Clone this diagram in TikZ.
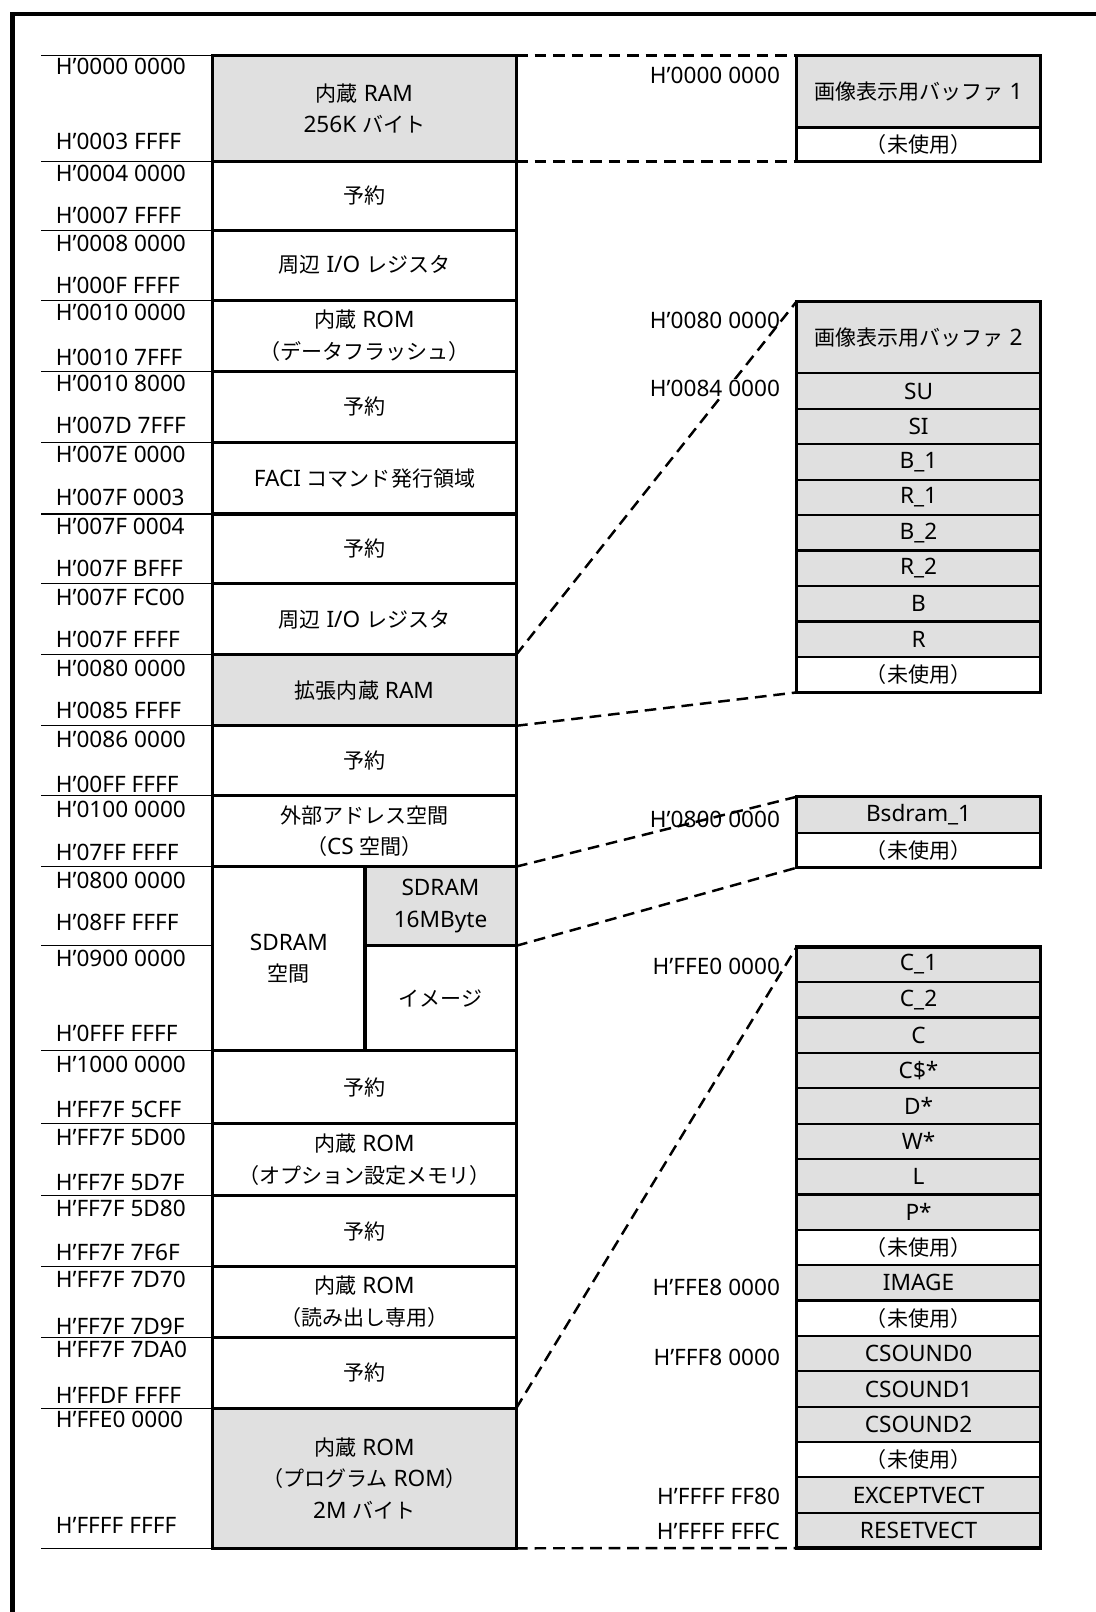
\documentclass[tikz,border=0pt]{standalone}
\usepackage{fontspec}
\setmainfont{Noto Sans}
\newfontfamily\jpfont[Scale=0.93]{Noto Sans CJK JP}
% switch to the Japanese face for kana, kanji and full-width forms
\XeTeXinterchartokenstate=1
\newXeTeXintercharclass\jpclass
\makeatletter
\count@="3000 \loop\XeTeXcharclass\count@=\jpclass\ifnum\count@<"30FF\advance\count@\@ne\repeat
\count@="4E00 \loop\XeTeXcharclass\count@=\jpclass\ifnum\count@<"9FFF\advance\count@\@ne\repeat
\count@="FF01 \loop\XeTeXcharclass\count@=\jpclass\ifnum\count@<"FF5E\advance\count@\@ne\repeat
\makeatother
\XeTeXinterchartoks 0 \jpclass = {\begingroup\jpfont}
\XeTeXinterchartoks 4095 \jpclass = {\begingroup\jpfont}
\XeTeXinterchartoks \jpclass 0 = {\endgroup}
\XeTeXinterchartoks \jpclass 4095 = {\endgroup}
\definecolor{memgray}{RGB}{224,224,224}

\begin{document}
\begin{tikzpicture}[x=0.75pt,y=0.75pt,yscale=-1,xscale=1,
  lbl/.style={font=\fontsize{16.5}{23.25}\selectfont, inner sep=0.75pt},
  addr/.style={lbl, anchor=west},
  raddr/.style={lbl, anchor=east},
  lcell/.style={lbl, draw, line width=2.25pt, minimum width=221.25pt, minimum height=#1*0.75pt, inner sep=0pt, outer sep=0pt, align=center},
  rcell/.style={lbl, draw, line width=1.6pt, fill=memgray, minimum width=177.75pt, minimum height=#1*0.75pt, inner sep=0pt, outer sep=0pt},
  rframe/.style={line width=2.4pt},
  dashlink/.style={line width=1.8pt, dash pattern=on 8.5pt off 5pt},
  addrrule/.style={line width=0.8pt}]
\useasboundingbox (0,0) rectangle (1066,1568);

%Frame
\draw[line width=3.4pt] (12,1568) -- (12,13.5) -- (1066,13.5) ;

%Left map: boxes
\node[lcell=103, fill=memgray] (iram) at (354.5,105.5) {内蔵 RAM\\256K バイト};
\node[lcell=67] (rsv1) at (354.5,190.5) {予約};
\node[lcell=68] (io1) at (354.5,258) {周辺 I/O レジスタ};
\node[lcell=69] (drom) at (354.5,326.5) {内蔵 ROM\\（データフラッシュ）};
\node[lcell=69] (rsv2) at (354.5,395.5) {予約};
\node[lcell=70] (faci) at (354.5,465) {FACI コマンド発行領域};
\node[lcell=68] (rsv3) at (354.5,534) {予約};
\node[lcell=69] (io2) at (354.5,602.5) {周辺 I/O レジスタ};
\node[lcell=69, fill=memgray] (xram) at (354.5,671.5) {拡張内蔵 RAM};
\node[lcell=68] (rsv4) at (354.5,740) {予約};
\node[lcell=69] (ext) at (354.5,808.5) {外部アドレス空間\\（CS 空間）};
\node[lcell=179, minimum width=111pt] (sdsp) at (281,932.5) {SDRAM\\空間};
\node[lcell=77, minimum width=110.25pt, fill=memgray] (sd16) at (428.5,881.5) {SDRAM\\16MByte};
\node[lcell=102, minimum width=110.25pt] (sdimg) at (428.5,971) {イメージ};
\node[lcell=71] (rsv5) at (354.5,1057.5) {予約};
\node[lcell=70] (orom) at (354.5,1128) {内蔵 ROM\\（オプション設定メモリ）};
\node[lcell=69] (rsv6) at (354.5,1197.5) {予約};
\node[lcell=69] (rrom) at (354.5,1266.5) {内蔵 ROM\\（読み出し専用）};
\node[lcell=69] (rsv7) at (354.5,1335.5) {予約};
\node[lcell=136, fill=memgray] (prom) at (354.5,1438) {内蔵 ROM\\（プログラム ROM）\\2M バイト};

%Left map: address rules
\draw[addrrule] (iram.north west) -- ++(-167,0) ;
\draw[addrrule] (iram.south west) -- ++(-167,0) ;
\draw[addrrule] (rsv1.south west) -- ++(-167,0) ;
\draw[addrrule] (io1.south west) -- ++(-167,0) ;
\draw[addrrule] (drom.south west) -- ++(-167,0) ;
\draw[addrrule] (rsv2.south west) -- ++(-167,0) ;
\draw[addrrule] (faci.south west) -- ++(-167,0) ;
\draw[addrrule] (rsv3.south west) -- ++(-167,0) ;
\draw[addrrule] (io2.south west) -- ++(-167,0) ;
\draw[addrrule] (xram.south west) -- ++(-167,0) ;
\draw[addrrule] (rsv4.south west) -- ++(-167,0) ;
\draw[addrrule] (ext.south west) -- ++(-167,0) ;
\draw[addrrule] (sdsp.west |- sd16.south) -- ++(-167,0) ;
\draw[addrrule] (sdsp.south west) -- ++(-167,0) ;
\draw[addrrule] (rsv5.south west) -- ++(-167,0) ;
\draw[addrrule] (orom.south west) -- ++(-167,0) ;
\draw[addrrule] (rsv6.south west) -- ++(-167,0) ;
\draw[addrrule] (rrom.south west) -- ++(-167,0) ;
\draw[addrrule] (rsv7.south west) -- ++(-167,0) ;
\draw[addrrule] (prom.south west) -- ++(-167,0) ;

% Text Node: left addresses
\node[addr] (la1) at (53,65) {H’0000 0000};
\node[addr] (la2) at (53,138) {H’0003 FFFF};
\node[addr] (la3) at (53,169) {H’0004 0000};
\node[addr] (la4) at (53,210) {H’0007 FFFF};
\node[addr] (la5) at (53,237) {H’0008 0000};
\node[addr] (la6) at (53,278) {H’000F FFFF};
\node[addr] (la7) at (53,304) {H’0010 0000};
\node[addr] (la8) at (53,348) {H’0010 7FFF};
\node[addr] (la9) at (53,373) {H’0010 8000};
\node[addr] (la10) at (53,414) {H’007D 7FFF};
\node[addr] (la11) at (53,442) {H’007E 0000};
\node[addr] (la12) at (53,484) {H’007F 0003};
\node[addr] (la13) at (53,512) {H’007F 0004};
\node[addr] (la14) at (53,553) {H’007F BFFF};
\node[addr] (la15) at (53,581) {H’007F FC00};
\node[addr] (la16) at (53,622) {H’007F FFFF};
\node[addr] (la17) at (53,650) {H’0080 0000};
\node[addr] (la18) at (53,691) {H’0085 FFFF};
\node[addr] (la19) at (53,719) {H’0086 0000};
\node[addr] (la20) at (53,763) {H’00FF FFFF};
\node[addr] (la21) at (53,787) {H’0100 0000};
\node[addr] (la22) at (53,829) {H’07FF FFFF};
\node[addr] (la23) at (53,856) {H’0800 0000};
\node[addr] (la24) at (53,897) {H’08FF FFFF};
\node[addr] (la25) at (53,932) {H’0900 0000};
\node[addr] (la26) at (53,1005) {H’0FFF FFFF};
\node[addr] (la27) at (53,1035) {H’1000 0000};
\node[addr] (la28) at (53,1079) {H’FF7F 5CFF};
\node[addr] (la29) at (53,1106) {H’FF7F 5D00};
\node[addr] (la30) at (53,1150) {H’FF7F 5D7F};
\node[addr] (la31) at (53,1175) {H’FF7F 5D80};
\node[addr] (la32) at (53,1218) {H’FF7F 7F6F};
\node[addr] (la33) at (53,1244) {H’FF7F 7D70};
\node[addr] (la34) at (53,1290) {H’FF7F 7D9F};
\node[addr] (la35) at (53,1313) {H’FF7F 7DA0};
\node[addr] (la36) at (53,1357) {H’FFDF FFFF};
\node[addr] (la37) at (53,1381) {H’FFE0 0000};
\node[addr] (la38) at (53,1484) {H’FFFF FFFF};

%Right maps: cells
\node[rcell=70] (buf1) at (893.5,89) {画像表示用バッファ 1};
\node[rcell=33, fill=white] (un1) at (893.5,140.5) {（未使用）};

\node[rcell=70] (buf2) at (893.5,328) {画像表示用バッファ 2};
\node[rcell=34.5] (su) at (893.5,380.25) {SU};
\node[rcell=34.5] (si) at (893.5,414.75) {SI};
\node[rcell=34.5] (b1) at (893.5,449.25) {B\_1};
\node[rcell=34.5] (r1) at (893.5,483.75) {R\_1};
\node[rcell=34.5] (b2) at (893.5,518.25) {B\_2};
\node[rcell=34.5] (r2) at (893.5,552.75) {R\_2};
\node[rcell=34.5] (bb) at (893.5,587.25) {B};
\node[rcell=34.5] (rr) at (893.5,621.75) {R};
\node[rcell=34.5, fill=white] (un2) at (893.5,656.25) {（未使用）};

\node[rcell=35] (bsd) at (893.5,792.5) {Bsdram\_1};
\node[rcell=34, fill=white] (un3) at (893.5,827) {（未使用）};

\node[rcell=34.4] (c1) at (893.5,938.2) {C\_1};
\node[rcell=34.4] (c2) at (893.5,972.6) {C\_2};
\node[rcell=34.4] (c3) at (893.5,1007) {C};
\node[rcell=34.4] (c4) at (893.5,1041.4) {C\$*};
\node[rcell=34.4] (c5) at (893.5,1075.8) {D*};
\node[rcell=34.4] (c6) at (893.5,1110.2) {W*};
\node[rcell=34.4] (c7) at (893.5,1144.6) {L};
\node[rcell=34.4] (c8) at (893.5,1179) {P*};
\node[rcell=34.4, fill=white] (c9) at (893.5,1213.4) {（未使用）};
\node[rcell=34.4] (c10) at (893.5,1247.8) {IMAGE};
\node[rcell=34.4, fill=white] (c11) at (893.5,1282.2) {（未使用）};
\node[rcell=34.4] (c12) at (893.5,1316.6) {CSOUND0};
\node[rcell=34.4] (c13) at (893.5,1351) {CSOUND1};
\node[rcell=34.4] (c14) at (893.5,1385.4) {CSOUND2};
\node[rcell=34.4, fill=white] (c15) at (893.5,1419.8) {（未使用）};
\node[rcell=34.4] (c16) at (893.5,1454.2) {EXCEPTVECT};
\node[rcell=34.4] (c17) at (893.5,1488.6) {RESETVECT};

%Right maps: outlines
\draw[rframe] (buf1.north west) rectangle (un1.south east) ;
\draw[rframe] (buf2.north west) rectangle (un2.south east) ;
\draw[rframe] (bsd.north west) rectangle (un3.south east) ;
\draw[rframe] (c1.north west) rectangle (c17.south east) ;

%Dashed links
\draw[dashlink] (iram.north east) -- (buf1.north west) ;
\draw[dashlink] (iram.south east) -- (un1.south west) ;
\draw[dashlink] (xram.north east) -- (buf2.north west) ;
\draw[dashlink] (xram.south east) -- (un2.south west) ;
\draw[dashlink] (sd16.north east) -- (bsd.north west) ;
\draw[dashlink] (sd16.south east) -- (un3.south west) ;
\draw[dashlink] (prom.north east) -- (c1.north west) ;
\draw[dashlink] (prom.south east) -- (c17.south west) ;

% Text Node: right addresses
\node[raddr] (ra1) at (760,73) {H’0000 0000};
\node[raddr] (ra2) at (760,312) {H’0080 0000};
\node[raddr, fill=white] (ra3) at (760,378) {H’0084 0000};
\node[raddr] (ra4) at (760,797) {H’0800 0000};
\node[raddr] (ra5) at (760,940) {H’FFE0 0000};
\node[raddr] (ra6) at (760,1252) {H’FFE8 0000};
\node[raddr] (ra7) at (760,1320) {H’FFF8 0000};
\node[raddr] (ra8) at (760,1456) {H’FFFF FF80};
\node[raddr] (ra9) at (760,1490) {H’FFFF FFFC};

\end{tikzpicture}
\end{document}
